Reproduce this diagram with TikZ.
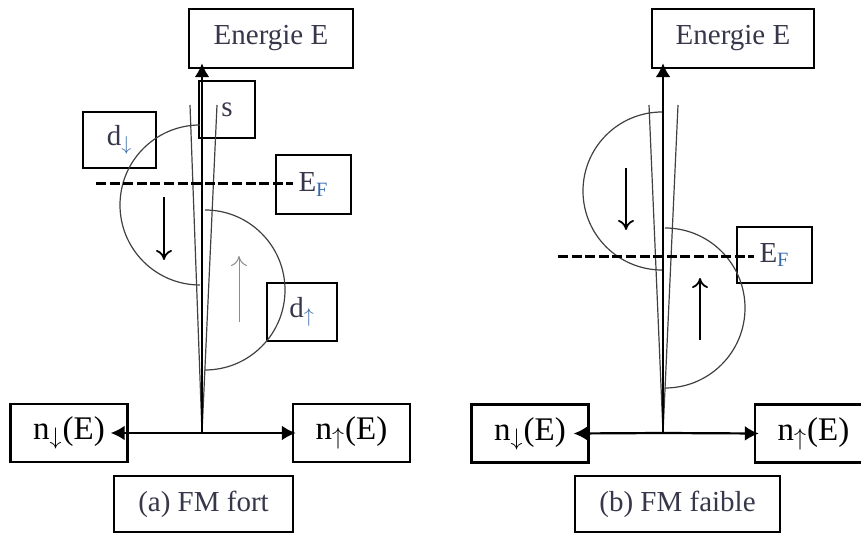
\documentclass[tikz,border=0pt]{standalone}
\usepackage{fontspec}
\setmainfont{Liberation Serif}
\usepackage{amsmath, amssymb}
\usetikzlibrary{arrows.meta}
\definecolor{txt}{RGB}{55,55,75}
\definecolor{sub}{RGB}{55,105,170}

\begin{document}
\begin{tikzpicture}[x=0.5pt,y=-0.5pt,
	box/.style={draw,line width=1.2pt,inner sep=0pt,text=txt,font=\fontsize{14.5}{16}\selectfont},
	nbox/.style={draw,line width=1.2pt,inner sep=0pt,font=\fontsize{16.5}{18}\selectfont,minimum width=58.5pt,minimum height=29pt},
	axe/.style={line width=1.1pt,-{Latex[length=7pt,width=7.5pt]}},
	band/.style={line width=0.6pt,draw=black!75},
	spin/.style={line width=0.9pt,-{To[length=5pt,width=8pt]}},
	fermi/.style={line width=1.5pt,dash pattern=on 5pt off 1.8pt}]
	
	\clip (0,0) rectangle (861,533);
	
	% (a) FM fort
	\coordinate (Oa) at (202,433);
	\node[box,minimum width=82pt,minimum height=29.5pt] (ena) at (271,38.5) {Energie E};
	\node[box,minimum width=28pt,minimum height=28.5pt] (sa) at (227,109.5) {s};
	\node[box,minimum width=36.5pt,minimum height=28pt] (dda) at (119.5,140) {d\textsubscript{\color{sub}$\downarrow$}};
	\node[box,minimum width=37.5pt,minimum height=29.5pt] (efa) at (313.5,184.5) {E\textsubscript{\color{sub}F}};
	\node[box,minimum width=35pt,minimum height=29pt] (dua) at (302,312) {d\textsubscript{\color{sub}$\uparrow$}};
	\node[nbox] (nda) at (69,433) {n\textsubscript{$\downarrow$}(E)};
	\node[nbox] (nua) at (351.5,433) {n\textsubscript{$\uparrow$}(E)};
	\node[box,minimum width=89.5pt,minimum height=28pt] (capa) at (203.5,504) {(a) FM fort};
	
	\draw[band] (Oa) -- (190,105);
	\draw[band] (Oa) -- (217,105);
	\draw[band] (200,125) arc[start angle=270,end angle=90,radius=80];
	\draw[band] (205,210) arc[start angle=270,end angle=450,radius=80];
	\draw[spin] (164,197) -- (164,260);
	\draw[spin,draw=black!45,line width=0.5pt] (239,322) -- (239,256);
	\draw[fermi] (96,184) -- ([xshift=9pt]efa.west |- 0,184);
	
	\draw[axe] (Oa) -- ([yshift=3pt]Oa |- ena.south);
	\draw[axe] (Oa) -- ([xshift=-9pt]nda.east);
	\draw[axe] (Oa) -- ([xshift=2pt]nua.west);
	
	% (b) FM faible
	\coordinate (Ob) at (663,433);
	\node[box,minimum width=81pt,minimum height=29.5pt] (enb) at (733,38.5) {Energie E};
	\node[box,minimum width=37.5pt,minimum height=28pt] (efb) at (774.5,255) {E\textsubscript{\color{sub}F}};
	\node[nbox] (ndb) at (530,433.5) {n\textsubscript{$\downarrow$}(E)};
	\node[nbox] (nub) at (813.5,433.5) {n\textsubscript{$\uparrow$}(E)};
	\node[box,minimum width=102.5pt,minimum height=28pt] (capb) at (677.5,504) {(b) FM faible};
	
	\draw[band] (Ob) -- (649,105);
	\draw[band] (Ob) -- (678,105);
	\draw[band] (662,112) arc[start angle=270,end angle=90,radius=79];
	\draw[band] (665,228) arc[start angle=270,end angle=450,radius=80];
	\draw[spin] (626,168) -- (626,230);
	\draw[spin] (700,340) -- (700,278);
	\draw[fermi] (558,257) -- ([xshift=9pt]efb.west |- 0,257);
	
	\draw[axe] (Ob) -- ([yshift=3pt]Ob |- enb.south);
	\draw[axe] (Ob) -- ([xshift=-8pt]ndb.east);
	\draw[axe] (Ob) -- ([xshift=2.5pt]nub.west);
	
\end{tikzpicture}
\end{document}
